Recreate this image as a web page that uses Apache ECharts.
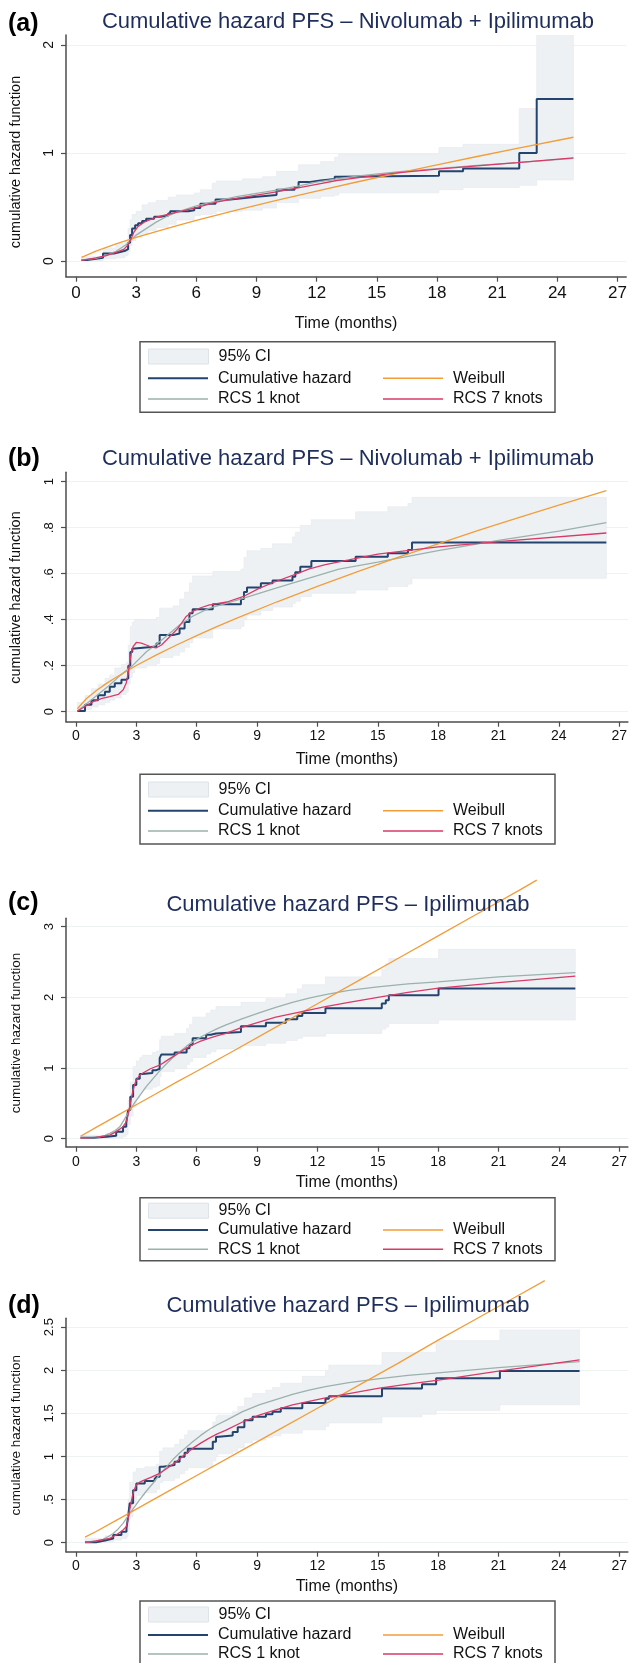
<!DOCTYPE html>
<html><head><meta charset="utf-8">
<script src="https://cdn.jsdelivr.net/npm/echarts@6.0.0/dist/echarts.min.js"></script>
<style>html,body{margin:0;padding:0;background:#fff}#c{width:630px;height:1663px}</style>
</head><body><div id="c"></div>
<script>
// ---------- tick labels ----------
const xTicks = [0,3,6,9,12,15,18,21,24,27];
const aYTicks = [0,1,2];
const bYTicks = [0,0.2,0.4,0.6,0.8,1];
const cYTicks = [0,1,2,3];
const dYTicks = [0,0.5,1,1.5,2,2.5];

const titles = ['Cumulative hazard PFS \u2013 Nivolumab + Ipilimumab','Cumulative hazard PFS \u2013 Nivolumab + Ipilimumab','Cumulative hazard PFS \u2013 Ipilimumab','Cumulative hazard PFS \u2013 Ipilimumab'];
const panelLabels = ['(a)','(b)','(c)','(d)'];
const legendNames = ['95% CI','Cumulative hazard','Weibull','RCS 1 knot','RCS 7 knots'];

// ---------- panel (a) ----------
const aCumHaz = [[0.28,0.01],[0.55,0.02],[1.0,0.03],[1.35,0.07],[1.9,0.08],[2.15,0.095],[2.45,0.11],[2.6,0.17],[2.7,0.24],[2.8,0.3],[2.95,0.33],[3.1,0.35],[3.3,0.37],[3.5,0.39],[3.9,0.41],[4.2,0.42],[4.6,0.44],[4.7,0.46],[5.6,0.47],[5.9,0.49],[6.2,0.53],[6.96,0.57],[7.7,0.58],[8.3,0.595],[9.0,0.6],[9.3,0.61],[10.0,0.66],[10.9,0.685],[11.1,0.73],[11.6,0.745],[12.2,0.76],[12.9,0.78],[13.1,0.79],[18.1,0.83],[19.3,0.857],[22.1,1.0],[22.97,1.5],[24.8,1.5]];
const aCiT  = [0.28,1.35,2.0,2.45,2.6,2.7,2.8,3.0,3.3,3.6,4.0,4.6,5.0,5.9,6.2,6.8,7.0,8.3,9.3,10.0,11.1,12.2,12.9,13.1,18.1,19.3,22.1,22.97,24.8];
const aCiLo = [0.0,0.02,0.03,0.05,0.09,0.14,0.19,0.22,0.25,0.28,0.31,0.34,0.38,0.42,0.43,0.44,0.46,0.47,0.49,0.54,0.58,0.6,0.61,0.63,0.66,0.68,0.7,0.75,0.75];
const aCiHi = [0.04,0.12,0.16,0.19,0.3,0.38,0.43,0.46,0.52,0.54,0.56,0.59,0.61,0.63,0.66,0.72,0.74,0.76,0.78,0.83,0.89,0.92,0.96,0.99,1.05,1.08,1.41,2.6,2.6];
const aWeibull = [[0.28,0.034],[1,0.092],[2,0.158],[3,0.218],[4,0.273],[5,0.325],[6,0.375],[8,0.471],[10,0.561],[12,0.647],[14,0.731],[16,0.811],[18,0.89],[20,0.967],[22,1.042],[24.8,1.145]];
const aRcs1 = [[0.28,0.01],[1,0.025],[1.5,0.05],[2,0.09],[2.5,0.15],[3,0.24],[3.5,0.3],[4,0.36],[4.5,0.41],[5,0.45],[6,0.51],[7,0.555],[8,0.595],[9,0.625],[10,0.655],[11,0.69],[12,0.73],[13,0.76],[14,0.785],[16,0.825],[18,0.855],[20,0.885],[22,0.91],[24.8,0.95]];
const aRcs7 = [[0.28,0.005],[1,0.03],[1.5,0.05],[2,0.08],[2.4,0.11],[2.6,0.15],[2.76,0.21],[2.9,0.27],[3.1,0.32],[3.4,0.36],[4,0.405],[5,0.45],[6,0.495],[7,0.545],[8,0.58],[9,0.61],[10,0.64],[11,0.675],[12,0.71],[13,0.745],[14,0.77],[16,0.815],[18,0.85],[20,0.88],[22,0.91],[24.8,0.955]];

// ---------- panel (b) ----------
const bCumHaz = [[0.07,0.003],[0.45,0.03],[0.77,0.05],[1.1,0.072],[1.44,0.087],[1.68,0.109],[1.93,0.124],[2.26,0.139],[2.5,0.146],[2.6,0.2],[2.7,0.26],[2.8,0.275],[2.92,0.283],[4.0,0.297],[4.16,0.333],[4.82,0.34],[5.15,0.362],[5.4,0.39],[5.64,0.428],[5.8,0.446],[6.8,0.467],[8.2,0.49],[8.35,0.52],[8.5,0.54],[9.19,0.558],[9.77,0.57],[10.76,0.587],[10.9,0.606],[11.15,0.63],[11.7,0.655],[13.9,0.674],[15.5,0.689],[16.5,0.703],[16.7,0.736],[26.36,0.736]];
const bCiT  = [0.07,0.45,0.77,1.1,1.44,1.68,1.93,2.26,2.5,2.6,2.7,2.8,2.92,3.5,4.0,4.16,4.82,5.15,5.4,5.64,5.8,6.8,8.2,8.35,8.5,9.19,9.77,10.76,10.9,11.15,11.7,13.9,15.5,16.5,16.7,26.36];
const bCiLo = [0.0,0.01,0.02,0.03,0.04,0.05,0.06,0.075,0.085,0.12,0.15,0.17,0.19,0.2,0.21,0.235,0.245,0.26,0.28,0.3,0.32,0.36,0.37,0.4,0.42,0.44,0.455,0.47,0.48,0.5,0.515,0.529,0.544,0.555,0.58,0.58];
const bCiHi = [0.04,0.07,0.1,0.12,0.145,0.16,0.19,0.205,0.215,0.29,0.37,0.39,0.4,0.4,0.41,0.45,0.46,0.49,0.52,0.56,0.59,0.61,0.62,0.67,0.7,0.71,0.73,0.76,0.78,0.81,0.835,0.869,0.891,0.905,0.932,0.932];
const bWeibull = [[0.07,0.013],[0.5,0.055],[1,0.091],[1.5,0.122],[2,0.15],[3,0.201],[4,0.247],[5,0.29],[6,0.331],[7,0.37],[8,0.407],[10,0.478],[12,0.545],[14,0.609],[16,0.671],[18,0.73],[20,0.788],[22,0.844],[24,0.898],[26.36,0.961]];
const bRcs1 = [[0.07,0.003],[0.85,0.057],[1.68,0.116],[2.2,0.158],[2.76,0.196],[3.5,0.261],[4.16,0.304],[5.15,0.377],[5.8,0.415],[6.6,0.449],[7.5,0.472],[8.3,0.493],[9.1,0.515],[9.9,0.536],[10.8,0.56],[12,0.592],[13.07,0.62],[15,0.65],[18,0.7],[21,0.745],[24,0.785],[26.36,0.822]];
const bRcs7 = [[0.07,0.003],[0.5,0.025],[0.85,0.044],[1.3,0.058],[1.68,0.066],[2.1,0.075],[2.35,0.095],[2.5,0.125],[2.6,0.17],[2.67,0.213],[2.75,0.255],[2.84,0.283],[3.0,0.301],[3.25,0.298],[3.5,0.29],[3.75,0.281],[4.0,0.278],[4.25,0.29],[4.5,0.312],[5.0,0.356],[5.25,0.385],[5.48,0.414],[5.8,0.436],[6.2,0.452],[6.6,0.463],[7.0,0.47],[7.5,0.477],[8.3,0.5],[9.1,0.536],[9.9,0.565],[10.8,0.594],[11.6,0.621],[12.4,0.64],[13.56,0.66],[15,0.685],[18,0.717],[21.3,0.742],[26.36,0.777]];

// ---------- panel (c) ----------
const cCumHaz = [[0.23,0.014],[0.86,0.028],[1.52,0.042],[2.0,0.1],[2.34,0.17],[2.5,0.22],[2.59,0.406],[2.7,0.593],[2.84,0.76],[3.0,0.85],[3.17,0.915],[3.3,0.93],[3.8,0.97],[4.0,0.99],[4.16,1.14],[4.24,1.19],[4.9,1.22],[5.5,1.28],[5.64,1.33],[5.8,1.42],[6.47,1.47],[6.7,1.49],[6.96,1.51],[8.2,1.59],[9.44,1.64],[10.43,1.69],[11.0,1.735],[11.25,1.78],[12.4,1.845],[15.2,1.915],[15.4,1.96],[15.55,2.03],[18.02,2.127],[24.82,2.127]];
const cCiT  = [0.23,1.52,2.0,2.34,2.5,2.59,2.7,2.84,3.0,3.17,3.3,3.8,4.0,4.16,4.24,4.9,5.5,5.64,5.8,6.47,6.7,6.96,8.2,9.44,10.43,11.0,11.25,12.4,15.2,15.4,15.55,18.02,24.82];
const cCiLo = [0.0,0.005,0.01,0.03,0.06,0.2,0.32,0.45,0.58,0.66,0.7,0.73,0.75,0.88,0.95,0.99,1.05,1.09,1.15,1.2,1.23,1.27,1.32,1.35,1.39,1.42,1.45,1.49,1.55,1.58,1.63,1.68,1.68];
const cCiHi = [0.05,0.075,0.12,0.19,0.24,0.55,0.8,1.02,1.1,1.15,1.18,1.22,1.24,1.4,1.45,1.49,1.56,1.62,1.72,1.78,1.82,1.87,1.93,1.98,2.05,2.12,2.18,2.29,2.4,2.48,2.55,2.68,2.68];
const cWeibull = [[0.23,0.035],[1,0.16],[2,0.32],[3,0.48],[4,0.64],[5,0.8],[6,0.955],[8,1.27],[10,1.59],[12,1.91],[14,2.23],[16,2.55],[18,2.87],[20,3.19],[22,3.51],[22.9,3.66]];
const cRcs1 = [[0.23,0.01],[0.8,0.015],[1.2,0.028],[1.45,0.048],[1.68,0.075],[1.95,0.115],[2.18,0.168],[2.42,0.28],[2.67,0.4],[2.92,0.51],[3.17,0.61],[3.5,0.74],[3.83,0.85],[4.16,0.96],[4.5,1.06],[4.82,1.15],[5.15,1.23],[5.5,1.31],[5.8,1.37],[6.2,1.44],[6.6,1.5],[7.0,1.555],[7.46,1.61],[8.28,1.7],[9.1,1.78],[9.93,1.86],[10.76,1.93],[11.58,1.99],[12.4,2.04],[13.56,2.1],[15,2.15],[16.5,2.19],[18,2.22],[21,2.29],[24.82,2.35]];
const cRcs7 = [[0.23,0.01],[1.0,0.02],[1.68,0.05],[2.0,0.1],[2.34,0.17],[2.5,0.24],[2.59,0.34],[2.67,0.45],[2.76,0.58],[2.84,0.69],[2.92,0.77],[3.0,0.83],[3.15,0.89],[3.33,0.93],[3.7,0.99],[4.16,1.04],[4.57,1.115],[4.98,1.19],[5.4,1.265],[5.8,1.33],[6.2,1.38],[6.6,1.42],[7.0,1.455],[7.46,1.49],[8.28,1.58],[9.1,1.65],[9.93,1.72],[10.76,1.77],[11.58,1.82],[12.4,1.87],[13.56,1.93],[15,2.0],[16.5,2.07],[18.02,2.13],[21,2.21],[24.82,2.3]];

// ---------- panel (d) ----------
const dCumHaz = [[0.45,0.005],[1.0,0.025],[1.44,0.048],[1.85,0.09],[2.26,0.128],[2.51,0.167],[2.59,0.3],[2.67,0.457],[2.84,0.61],[3.0,0.688],[3.42,0.715],[3.91,0.74],[4.0,0.765],[4.16,0.88],[4.32,0.9],[4.9,0.94],[5.15,0.998],[5.4,1.045],[5.56,1.09],[6.8,1.17],[6.96,1.225],[7.05,1.245],[7.79,1.284],[8.04,1.34],[8.37,1.42],[8.78,1.46],[9.44,1.49],[9.77,1.52],[10.18,1.56],[11.25,1.62],[12.4,1.67],[12.57,1.7],[15.21,1.79],[17.2,1.837],[17.9,1.907],[21.07,1.992],[25.03,1.992]];
const dCiT  = [0.45,1.44,1.85,2.26,2.51,2.59,2.67,2.84,3.0,3.42,4.0,4.16,4.32,4.9,5.15,5.4,5.56,6.8,6.96,7.05,7.79,8.04,8.37,8.78,9.44,9.77,10.18,11.25,12.4,12.57,15.21,17.2,17.9,21.07,25.03];
const dCiLo = [0.0,0.01,0.03,0.05,0.07,0.15,0.3,0.45,0.55,0.58,0.62,0.7,0.72,0.75,0.8,0.84,0.87,0.95,1.0,1.03,1.06,1.1,1.16,1.19,1.22,1.24,1.27,1.31,1.35,1.39,1.46,1.49,1.535,1.6,1.6];
const dCiHi = [0.05,0.08,0.11,0.13,0.2,0.5,0.7,0.82,0.86,0.88,0.91,1.06,1.1,1.14,1.2,1.25,1.3,1.4,1.46,1.48,1.52,1.58,1.68,1.73,1.77,1.8,1.85,1.93,1.99,2.06,2.205,2.21,2.344,2.468,2.468];
const dWeibull = [[0.45,0.065],[1,0.13],[2,0.26],[3,0.39],[4,0.52],[5,0.65],[6,0.78],[8,1.04],[10,1.3],[12,1.56],[14,1.82],[16,2.08],[18,2.35],[20,2.61],[22,2.87],[23.3,3.04]];
const dRcs1 = [[0.45,0.005],[0.9,0.015],[1.35,0.04],[1.6,0.07],[1.85,0.108],[2.1,0.16],[2.34,0.225],[2.67,0.34],[2.92,0.42],[3.17,0.5],[3.5,0.6],[3.83,0.69],[4.16,0.79],[4.5,0.88],[4.82,0.965],[5.15,1.04],[5.5,1.11],[5.8,1.17],[6.2,1.245],[6.6,1.31],[7.0,1.365],[7.46,1.42],[8.28,1.52],[9.1,1.6],[9.93,1.66],[10.76,1.72],[11.58,1.77],[12.4,1.81],[13.56,1.856],[15,1.9],[16.5,1.94],[18,1.97],[21,2.03],[25.03,2.1]];
const dRcs7 = [[0.45,0.005],[1.0,0.02],[1.68,0.05],[2.0,0.09],[2.34,0.148],[2.5,0.187],[2.59,0.27],[2.67,0.38],[2.76,0.49],[2.84,0.572],[2.92,0.63],[3.0,0.67],[3.15,0.7],[3.33,0.72],[3.75,0.76],[4.16,0.805],[4.57,0.87],[4.98,0.94],[5.4,1.02],[5.8,1.094],[6.2,1.155],[6.6,1.21],[7.0,1.26],[7.46,1.307],[8.28,1.4],[9.1,1.48],[9.93,1.54],[10.76,1.6],[11.58,1.64],[12.4,1.68],[13.56,1.73],[15,1.79],[16.5,1.84],[18.02,1.887],[21,1.99],[25.03,2.12]];

// ---------- assemble ----------
const panels = [
  {cum:aCumHaz, ciT:aCiT, ciLo:aCiLo, ciHi:aCiHi, wei:aWeibull, r1:aRcs1, r7:aRcs7, yTicks:aYTicks},
  {cum:bCumHaz, ciT:bCiT, ciLo:bCiLo, ciHi:bCiHi, wei:bWeibull, r1:bRcs1, r7:bRcs7, yTicks:bYTicks},
  {cum:cCumHaz, ciT:cCiT, ciLo:cCiLo, ciHi:cCiHi, wei:cWeibull, r1:cRcs1, r7:cRcs7, yTicks:cYTicks},
  {cum:dCumHaz, ciT:dCiT, ciLo:dCiLo, ciHi:dCiHi, wei:dWeibull, r1:dRcs1, r7:dRcs7, yTicks:dYTicks}
];

const FF = "'Liberation Sans', Arial, Helvetica, sans-serif";
const NAVY = '#22446f', ORANGE = '#f29d38', GREEN = '#9ab1ac', RED = '#d93a67', BAND = '#eef1f4';
const AX = '#4d4d4d', GRIDC = '#edf2f3', TITLEC = '#1e2d5c';
const lineColors = {'Cumulative hazard':NAVY, 'Weibull':ORANGE, 'RCS 1 knot':GREEN, 'RCS 7 knots':RED};
const lineWidths = {'Cumulative hazard':2, 'Weibull':1.4, 'RCS 1 knot':1.4, 'RCS 7 knots':1.4};

const layout = [
  {top:35, bottom:276.7, ymin:-0.145, ymax:2.091, titleY:21.5, labelY:24, yTitleY:162, yTitleFont:14.5, yLabFont:14,
   xLabMargin:8, xLabFont:17, xNameGap:39, xNameFont:16, rows:[356.5,378.3,399], box:[341.7,70.6]},
  {top:472.3, bottom:721.7, ymin:-0.0435, ymax:1.041, titleY:458.5, labelY:459, yTitleY:597.5, yTitleFont:14.5, yLabFont:13,
   xLabMargin:7, xLabFont:14, xNameGap:29.5, xNameFont:16, rows:[789.5,810.7,831], box:[774.3,69.7]},
  {top:918.3, bottom:1146.7, ymin:-0.113, ymax:3.119, titleY:905, labelY:903, yTitleY:1033, yTitleFont:13.5, yLabFont:13,
   xLabMargin:8, xLabFont:14, xNameGap:28, xNameFont:16, rows:[1210.7,1230,1249.3], box:[1197.7,63]},
  {top:1318.3, bottom:1551.7, ymin:-0.104, ymax:2.603, titleY:1306, labelY:1306, yTitleY:1435.3, yTitleFont:13.5, yLabFont:13,
   xLabMargin:7, xLabFont:14, xNameGap:27, xNameFont:16, rows:[1614.5,1635,1654], box:[1601,70]}
];

const grids = [], xAxes = [], yAxes = [], series = [], legends = [], graphics = [];
const yFmt = v => String(v).replace(/^0\./, '.');

panels.forEach((p, i) => {
  const L = layout[i];
  grids.push({left:66, right:0, top:L.top, height:L.bottom - L.top, containLabel:false});
  xAxes.push({
    gridIndex:i, type:'value', min:-0.495, max:27.43,
    axisLine:{show:true, onZero:false, lineStyle:{color:AX, width:1.5}},
    axisTick:{show:true, length:5, customValues:xTicks, lineStyle:{color:AX, width:1.2}},
    axisLabel:{customValues:xTicks, margin:L.xLabMargin, fontSize:L.xLabFont, fontFamily:FF, color:'#111'},
    splitLine:{show:false},
    name:'Time (months)', nameLocation:'middle', nameGap:L.xNameGap,
    nameTextStyle:{fontSize:L.xNameFont, fontFamily:FF, color:'#111'}
  });
  yAxes.push({
    gridIndex:i, type:'value', min:L.ymin, max:L.ymax,
    axisLine:{show:true, onZero:false, lineStyle:{color:AX, width:1.5}},
    axisTick:{show:true, length:5, customValues:p.yTicks, lineStyle:{color:AX, width:1.2}},
    axisLabel:{customValues:p.yTicks, rotate:90, margin:10, fontSize:L.yLabFont, fontFamily:FF, color:'#111', formatter:yFmt},
    splitLine:{show:true, lineStyle:{color:GRIDC, width:1}}
  });
  const ciData = p.ciT.map((t, k) => [t, p.ciLo[k], p.ciHi[k]]);
  series.push({
    type:'custom', name:'95% CI', xAxisIndex:i, yAxisIndex:i, clip:true, z:1,
    data:ciData, encode:{x:0, y:[1,2]}, itemStyle:{color:BAND},
    renderItem:function(params, api){
      if (params.dataIndexInside !== 0) return null;
      const n = params.dataInsideLength;
      const up = [], lo = [];
      for (let k = 0; k < n; k++) {
        const t0 = api.value(0, k), t1 = k < n - 1 ? api.value(0, k + 1) : api.value(0, k);
        const l = api.value(1, k), h = api.value(2, k);
        up.push(api.coord([t0, h]), api.coord([t1, h]));
        lo.push(api.coord([t0, l]), api.coord([t1, l]));
      }
      return {type:'polygon', shape:{points:up.concat(lo.reverse())}, style:{fill:BAND, stroke:'#e6eaee', lineWidth:0.6}};
    }
  });
  series.push({type:'line', name:'Cumulative hazard', xAxisIndex:i, yAxisIndex:i, data:p.cum, step:'end', symbol:'none',
    lineStyle:{color:NAVY, width:2}, itemStyle:{color:NAVY}, z:3});
  series.push({type:'line', name:'RCS 1 knot', xAxisIndex:i, yAxisIndex:i, data:p.r1, smooth:false, symbol:'none',
    lineStyle:{color:GREEN, width:1.3}, itemStyle:{color:GREEN}, z:4});
  series.push({type:'line', name:'Weibull', xAxisIndex:i, yAxisIndex:i, data:p.wei, smooth:false, symbol:'none', clip:false,
    lineStyle:{color:ORANGE, width:1.3}, itemStyle:{color:ORANGE}, z:5});
  series.push({type:'line', name:'RCS 7 knots', xAxisIndex:i, yAxisIndex:i, data:p.r7, smooth:false, symbol:'none',
    lineStyle:{color:RED, width:1.3}, itemStyle:{color:RED}, z:6});

  // legends: one component per entry so each sits exactly where it does in the reference
  const items = [
    {name:legendNames[0], left:148, row:0, ci:true},
    {name:legendNames[1], left:148, row:1},
    {name:legendNames[2], left:383, row:1},
    {name:legendNames[3], left:148, row:2},
    {name:legendNames[4], left:383, row:2}
  ];
  items.forEach(it => {
    let d, ih;
    if (it.ci) {
      ih = 15;
      d = {name:it.name, icon:'rect', itemStyle:{color:BAND, borderColor:'#dde3e8', borderWidth:1}};
    } else {
      ih = lineWidths[it.name];
      d = {name:it.name, icon:'rect', itemStyle:{color:lineColors[it.name], borderWidth:0}};
    }
    legends.push({
      data:[d], left:it.left, top:L.rows[it.row] - 8, padding:0, itemWidth:60, itemHeight:ih,
      selectedMode:false, orient:'horizontal',
      textStyle:{fontSize:16, fontFamily:FF, color:'#111', lineHeight:16, padding:[0,0,0,5]}
    });
  });

  graphics.push({type:'rect', shape:{x:140, y:L.box[0], width:415, height:L.box[1]},
    style:{fill:'none', stroke:'#555', lineWidth:1.5}, z:10});
  graphics.push({type:'text', x:348, y:L.titleY, style:{text:titles[i], fill:TITLEC, fontSize:22, fontFamily:FF, align:'center', verticalAlign:'middle'}, z:10});
  graphics.push({type:'text', x:8, y:L.labelY, style:{text:panelLabels[i], fill:'#000', fontSize:25, fontWeight:'bold', fontFamily:FF, align:'left', verticalAlign:'middle'}, z:10});
  graphics.push({type:'text', x:16, y:L.yTitleY, rotation:Math.PI / 2,
    style:{text:'cumulative hazard function', fill:'#111', fontSize:L.yTitleFont, fontFamily:FF, align:'center', verticalAlign:'middle'}, z:10});
});

const chart = echarts.init(document.getElementById('c'), null, {renderer:'canvas', width:630, height:1663});
chart.setOption({
  animation:false, backgroundColor:'#fff',
  grid:grids, xAxis:xAxes, yAxis:yAxes, series:series, legend:legends, graphic:graphics
});
</script></body></html>
